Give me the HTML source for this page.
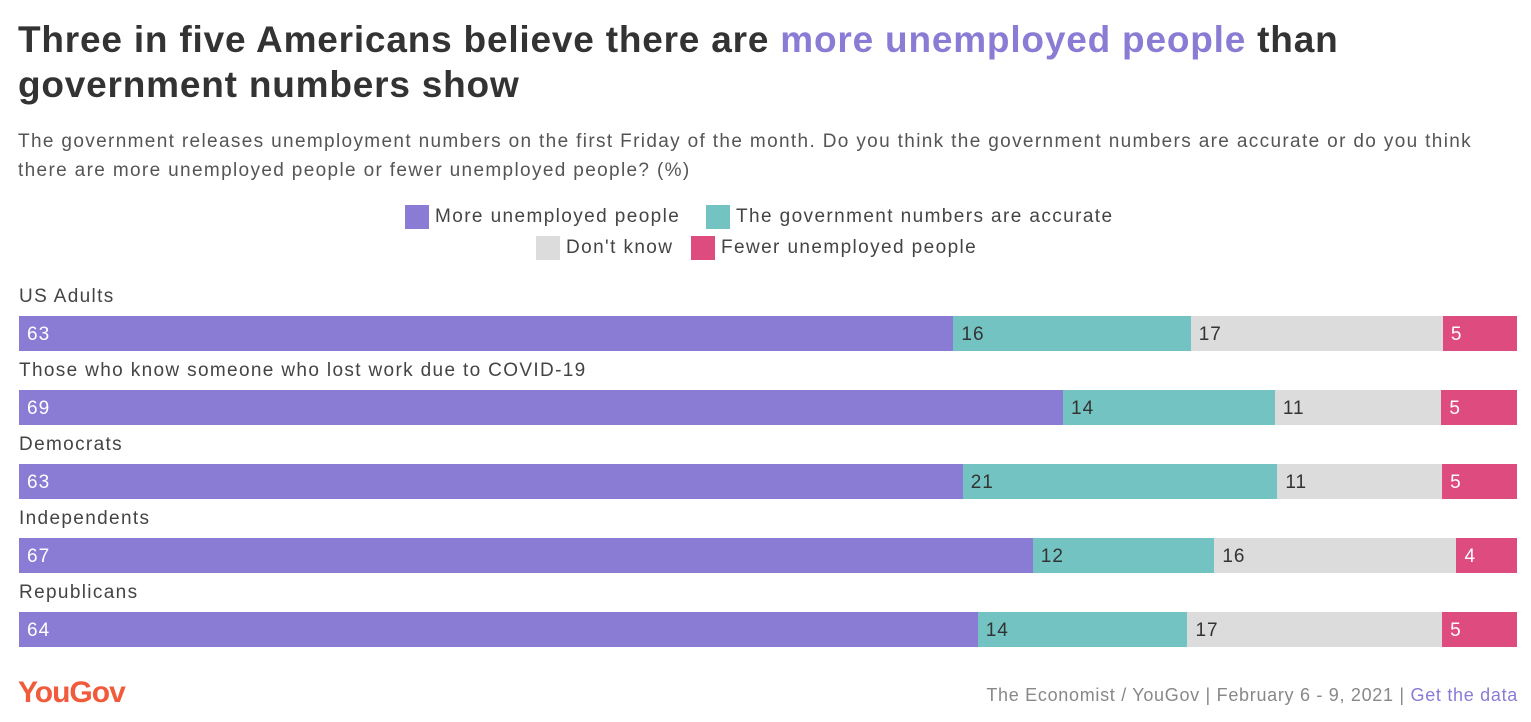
<!DOCTYPE html>
<html><head><meta charset="utf-8"><style>
body{margin:0;width:1531px;height:722px;background:#fff;font-family:"Liberation Sans",sans-serif;color:#333;position:relative;overflow:hidden}
.t{position:absolute;left:18px;top:17px;font-size:37px;font-weight:bold;line-height:45px;color:#333;letter-spacing:0.8px}
.t span{color:#8a7bd4}
.s{position:absolute;left:18px;top:127px;font-size:19px;line-height:29px;color:#555;letter-spacing:1.35px;white-space:nowrap}
.lg{position:absolute;font-size:19px;color:#444;display:flex;align-items:center;letter-spacing:1.4px;white-space:nowrap}
.sw{width:24px;height:24px;margin-right:6px}
.rl{position:absolute;left:19px;font-size:19px;color:#444;letter-spacing:1.35px;white-space:nowrap}
.seg{position:absolute;height:35px;font-size:19px;line-height:37px;box-sizing:border-box;padding-left:8px;letter-spacing:1px}
.foot{position:absolute;right:13px;top:685px;font-size:18px;color:#888;letter-spacing:0.7px}
.foot a{color:#8a7bd4;text-decoration:none}
.logo{position:absolute;left:18px;top:676px;font-size:30px;font-weight:bold;color:#f15a3a;letter-spacing:-1px}
</style></head><body>
<div class="t">Three in five Americans believe there are <span>more unemployed people</span> than<br>government numbers show</div>
<div class="s">The government releases unemployment numbers on the first Friday of the month. Do you think the government numbers are accurate or do you think<br>there are more unemployed people or fewer unemployed people? (%)</div>
<div class="lg" style="left:405px;top:205px"><div class="sw" style="background:#8a7bd4"></div>More unemployed people</div>
<div class="lg" style="left:706px;top:205px"><div class="sw" style="background:#74c3c3"></div>The government numbers are accurate</div>
<div class="lg" style="left:536px;top:236px"><div class="sw" style="background:#dcdcdc"></div>Don't know</div>
<div class="lg" style="left:691px;top:236px"><div class="sw" style="background:#de4b7e"></div>Fewer unemployed people</div>
<div id="chart"></div>
<div class="logo">YouGov</div>
<div class="foot">The Economist / YouGov | February 6 - 9, 2021 | <a>Get the data</a></div>
<script>
const categories=["US Adults","Those who know someone who lost work due to COVID-19","Democrats","Independents","Republicans"];
const moreVals=[63,69,63,67,64];
const accurateVals=[16,14,21,12,14];
const dontKnowVals=[17,11,11,16,17];
const fewerVals=[5,5,5,4,5];
const series=[moreVals,accurateVals,dontKnowVals,fewerVals];
const colors=["#8a7bd4","#74c3c3","#dcdcdc","#de4b7e"];
const textColors=["#fff","#333","#333","#fff"];
const names=["more","accurate","dont-know","fewer"];
const x0=19,W=1498,top0=316,pitch=74;
const c=document.getElementById('chart');
categories.forEach((cat,i)=>{
  const y=top0+i*pitch;
  const l=document.createElement('div');l.className='rl';l.style.top=(y-30)+'px';l.textContent=cat;
  
  
  c.appendChild(l);
  const tot=series.reduce((a,s)=>a+s[i],0);
  let x=x0;
  series.forEach((s,k)=>{
    const w=s[i]/tot*W;
    const d=document.createElement('div');d.className='seg';
    d.style.left=x+'px';d.style.top=y+'px';d.style.width=w+'px';
    d.style.background=colors[k];d.style.color=textColors[k];d.textContent=s[i];
    
    
    c.appendChild(d);x+=w;
  });
});
</script>
</body></html>
